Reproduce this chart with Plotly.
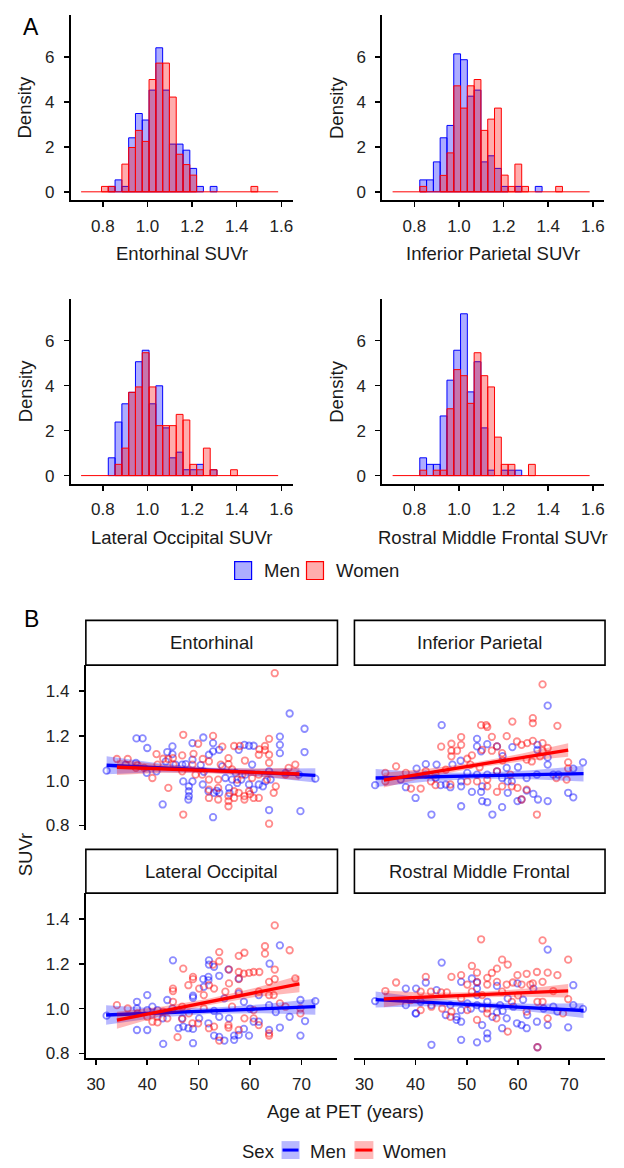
import plotly.graph_objects as go

# ---------------- DATA ----------------
REGIONS = ["Entorhinal", "Inferior Parietal", "Lateral Occipital", "Rostral Middle Frontal"]
HIST_TITLES = ["Entorhinal SUVr", "Inferior Parietal SUVr", "Lateral Occipital SUVr", "Rostral Middle Frontal SUVr"]

# histogram bins (shared)
BIN_START = 0.7028
BIN_WIDTH = 0.03044
N_BINS = 29

ENT_MEN_DENS = [0, 0, 0, 0, 0.24, 0.53, 0.24, 2.40, 3.48, 3.19, 4.52, 6.40, 4.52, 2.12, 2.12, 1.85, 1.04, 0.24, 0, 0.24, 0, 0, 0, 0, 0, 0, 0, 0, 0]
ENT_WOMEN_DENS = [0, 0, 0, 0.24, 0.24, 0, 1.23, 1.97, 2.73, 2.24, 4.99, 5.72, 5.72, 4.21, 1.67, 1.21, 0.74, 0, 0, 0, 0, 0, 0, 0, 0, 0.24, 0, 0, 0]
IP_MEN_DENS = [0, 0, 0, 0, 0.53, 0.53, 1.33, 2.40, 2.95, 6.13, 5.87, 4.25, 4.52, 1.33, 1.60, 1.04, 0.24, 0, 0.24, 0, 0, 0.24, 0, 0, 0, 0, 0, 0, 0]
IP_WOMEN_DENS = [0, 0, 0, 0, 0.24, 0, 0, 0.73, 1.73, 4.71, 3.72, 4.71, 4.99, 2.73, 3.23, 3.72, 0.74, 0.24, 1.23, 0.24, 0, 0, 0, 0, 0.24, 0, 0, 0, 0]
LO_MEN_DENS = [0, 0, 0, 0, 0.79, 2.38, 3.19, 3.70, 5.06, 5.57, 3.19, 3.99, 2.12, 0.79, 1.04, 0.26, 0.26, 0.50, 0, 0.26, 0, 0, 0, 0, 0, 0, 0, 0, 0]
LO_WOMEN_DENS = [0, 0, 0, 0, 0, 0.50, 1.22, 3.70, 3.94, 5.46, 3.94, 2.22, 2.22, 2.22, 2.72, 2.47, 0.50, 0.26, 1.22, 0.26, 0, 0, 0.26, 0, 0, 0, 0, 0, 0]
RMF_MEN_DENS = [0, 0, 0, 0, 0.79, 0.50, 0.50, 2.65, 4.24, 5.57, 7.19, 3.72, 5.06, 2.12, 0.24, 0, 0.24, 0.24, 0.24, 0, 0, 0, 0, 0, 0, 0, 0, 0, 0]
RMF_WOMEN_DENS = [0, 0, 0, 0, 0.24, 0, 0.24, 0.24, 2.97, 4.71, 4.44, 3.21, 5.46, 4.44, 3.94, 1.71, 0.50, 0.50, 0, 0, 0.50, 0, 0, 0, 0, 0, 0, 0, 0]

HIST_XTICKS = [0.8, 1.0, 1.2, 1.4, 1.6]
HIST_YTICKS = [0, 2, 4, 6]
AGE_TICKS = [30, 40, 50, 60, 70]
SUVR_TICKS = [0.8, 1.0, 1.2, 1.4]

# scatter points: (age, SUVr)
ENT_MEN = [(32.1,1.045),(37.9,1.189),(39.1,1.189),(40.0,1.146),(43.9,1.128),(44.9,1.153),(44.9,1.119),(48.8,1.168),
           (50.9,1.193),(52.8,1.168),(52.8,1.131),(54.0,1.138),(57.8,1.138),(58.9,1.160),(59.8,1.156),(60.7,1.156),
           (65.8,1.197),(65.8,1.160),(65.8,1.123),(67.7,1.300),(70.6,1.232),(70.6,1.128),(72.7,1.009),(43.0,0.894),
           (52.8,0.837),(63.7,0.869),(69.8,0.864),(48.1,0.975),(48.1,0.953),(48.1,0.931),(48.0,0.916),(47.0,0.997),
           (48.8,0.997),(50.8,0.983),(51.9,0.953),(53.0,0.946),(54.0,0.946),(55.2,1.012),(56.5,1.005),(58.3,1.005),
           (59.8,0.983),(60.7,0.960),(61.7,0.983),(63.0,0.997),(64.0,1.005),(37.8,1.079),(39.9,1.035),(41.8,1.042),
           (46.8,1.072),(47.5,1.074),(45.5,1.072),(54.6,1.064),(57.2,1.035),(59.1,1.027),(63.7,1.042),(66.9,1.035),
           (69.5,1.027),(52.0,1.116),(48.8,1.094),(60.4,1.072),(55.9,0.968),(57.5,0.990),(50.4,1.070),(43.6,1.086),
           (35.8,1.072),(53.5,0.955),(56.0,0.945),(51.0,1.040),(62.5,0.975)]
ENT_WOMEN = [(64.8,1.480),(47.0,1.205),(52.8,1.200),(63.7,1.187),(49.9,1.165),(54.6,1.152),(56.9,1.155),(58.0,1.155),
             (62.9,1.155),(62.9,1.137),(61.8,1.140),(41.8,1.119),(43.1,1.098),(44.1,1.097),(45.0,1.101),(46.8,1.113),
             (34.1,1.097),(36.2,1.097),(50.8,1.097),(52.0,1.086),(55.8,1.101),(55.8,1.074),(61.7,1.116),(63.7,1.116),
             (63.7,1.080),(68.8,1.072),(67.5,1.057),(41.0,1.012),(44.1,0.968),(47.0,0.849),(52.0,1.005),(52.0,0.960),
             (52.0,0.923),(53.8,1.005),(53.8,0.968),(53.8,0.916),(55.8,0.931),(55.8,0.909),(55.8,0.886),(56.9,0.953),
             (56.9,0.923),(57.8,0.946),(58.9,0.931),(58.9,0.916),(59.8,0.953),(60.7,0.923),(61.7,0.923),(63.7,0.808),
             (57.5,1.005),(60.4,1.012),(63.3,1.005),(65.0,0.975),(64.6,0.946),(48.8,1.072),(49.4,1.027),(42.0,1.072),
             (39.4,1.057),(37.8,1.057),(45.1,1.072),(46.8,1.042),(50.7,1.027),(58.5,1.027),(61.7,1.027),(66.9,1.027),
             (38.1,1.070),(54.3,1.072),(56.5,1.050),(59.0,1.090),(49.0,1.120),(60.0,0.940)]
IP_MEN = [(65.8,1.335),(45.1,1.248),(52.0,1.187),(55.9,1.153),(54.0,1.163),(52.0,1.153),(52.8,1.131),(63.8,1.160),
          (63.8,1.137),(58.9,1.150),(65.8,1.104),(65.8,1.072),(72.7,1.082),(70.8,1.054),(32.1,0.980),(38.1,0.971),
          (40.2,1.054),(42.0,1.074),(44.1,1.072),(47.2,1.072),(48.8,1.089),(40.0,0.923),(43.1,0.849),(48.9,0.886),
          (51.0,0.950),(52.8,0.950),(53.0,0.909),(54.0,0.904),(55.0,0.849),(56.9,0.882),(58.0,0.946),(59.9,0.909),
          (60.7,0.916),(61.7,0.956),(63.0,0.941),(63.9,0.916),(65.8,0.909),(69.8,0.946),(70.8,0.926),(44.9,0.980),
          (45.9,0.983),(46.8,0.971),(48.9,0.975),(48.9,0.997),(50.1,1.035),(52.0,1.027),(54.0,1.027),(55.9,1.042),
          (57.8,1.057),(58.8,0.997),(61.7,1.012),(66.9,1.027),(67.9,1.027),(37.1,1.005),(42.0,1.027),(43.9,1.012),
          (63.7,1.027),(58.0,0.997),(56.9,1.012),(53.0,0.975),(60.0,1.060),(57.0,1.110)]
IP_WOMEN = [(64.8,1.430),(62.9,1.279),(62.9,1.257),(52.8,1.248),(53.8,1.248),(54.0,1.240),(58.9,1.264),(67.7,1.245),
            (45.0,1.152),(47.0,1.165),(48.9,1.195),(48.9,1.160),(47.0,1.134),(48.1,1.134),(47.0,1.109),(51.0,1.113),
            (53.0,1.138),(54.9,1.196),(54.9,1.134),(57.8,1.199),(55.9,1.153),(56.9,1.123),(59.8,1.175),(60.7,1.160),
            (61.8,1.168),(62.9,1.178),(64.8,1.168),(64.8,1.134),(64.3,1.109),(65.8,1.146),(61.7,1.094),(62.7,1.086),
            (69.8,1.082),(69.8,1.054),(36.2,1.064),(34.1,1.035),(38.1,1.035),(42.0,1.042),(43.9,1.027),(45.9,1.049),
            (50.1,1.098),(50.7,1.072),(52.0,0.997),(54.0,1.005),(55.9,1.042),(58.5,1.027),(39.1,0.965),(41.0,0.965),
            (43.9,0.980),(46.8,0.983),(50.1,0.997),(54.0,0.975),(55.9,0.950),(56.9,0.975),(58.8,0.975),(59.9,0.968),
            (60.7,0.916),(61.7,0.960),(63.7,0.849),(67.5,1.012),(69.5,1.005),(34.1,0.997),(43.0,0.997),(57.0,1.090),
            (52.5,1.060)]
LO_MEN = [(65.8,1.283),(63.8,1.201),(45.0,1.216),(52.0,1.216),(52.0,1.197),(53.0,1.187),(55.8,1.176),(54.0,1.147),
          (50.9,1.132),(51.9,1.142),(57.8,1.135),(51.9,1.127),(51.0,1.098),(48.9,1.058),(48.9,1.049),(43.9,1.039),
          (40.0,1.061),(38.0,1.031),(32.1,0.969),(38.0,1.001),(40.0,0.994),(38.0,0.905),(40.0,0.905),(43.1,0.843),
          (48.9,0.846),(46.1,0.913),(47.0,0.920),(48.0,0.913),(48.9,0.910),(51.9,0.935),(53.0,0.880),(54.0,0.874),
          (55.0,0.858),(56.9,0.861),(56.9,0.880),(57.8,0.883),(59.8,0.880),(58.8,0.910),(60.7,0.942),(61.7,0.942),
          (63.7,0.905),(65.8,0.916),(69.8,0.880),(67.7,0.964),(70.7,0.945),(69.8,1.039),(72.7,1.034),(55.0,1.046),
          (57.8,1.068),(58.8,1.031),(61.7,1.061),(63.7,1.016),(55.9,0.957),(54.0,0.964),(50.1,0.957),(46.8,0.957),
          (43.0,0.957),(42.0,0.994),(41.0,1.009),(44.9,1.001),(53.0,0.990),(60.0,1.000),(65.0,0.985)]
LO_WOMEN = [(64.8,1.372),(62.9,1.279),(62.9,1.246),(67.7,1.261),(54.0,1.253),(54.0,1.212),(52.8,1.197),(58.9,1.250),
            (57.8,1.236),(47.0,1.179),(48.9,1.142),(48.9,1.132),(55.9,1.175),(57.8,1.164),(58.8,1.157),(59.8,1.160),
            (60.7,1.164),(61.8,1.164),(64.8,1.175),(63.7,1.120),(64.8,1.132),(68.8,1.135),(55.9,1.113),(57.8,1.132),
            (52.0,1.105),(53.0,1.090),(50.1,1.090),(45.0,1.090),(45.0,1.079),(48.0,1.105),(51.0,1.061),(55.2,1.076),
            (57.8,1.076),(61.7,1.076),(63.7,1.061),(64.6,1.061),(69.8,1.001),(69.8,0.979),(34.1,1.016),(36.2,1.001),
            (38.1,0.979),(40.0,0.964),(42.0,0.964),(42.0,0.939),(43.1,0.987),(45.0,1.031),(46.8,1.009),(46.8,0.954),
            (45.9,0.873),(48.8,0.935),(49.9,0.935),(51.0,1.001),(52.0,0.913),(53.0,0.920),(54.0,0.858),(55.8,0.927),
            (55.8,0.916),(57.8,0.905),(58.9,0.957),(60.7,0.957),(61.7,0.927),(63.7,0.890),(63.7,0.880),(65.8,1.024),
            (66.9,1.009),(60.7,0.994),(56.5,1.009),(48.1,0.979),(41.0,0.942),(43.9,0.957)]
RMF_MEN = [(65.8,1.264),(70.8,1.105),(45.1,1.206),(42.0,1.117),(40.1,1.090),(38.1,1.090),(44.1,1.083),(48.9,1.120),
           (51.0,1.135),(52.0,1.117),(52.0,1.090),(55.9,1.102),(58.0,1.046),(59.9,1.113),(63.0,1.090),(32.1,1.034),
           (38.1,1.016),(40.1,0.979),(43.1,1.016),(45.9,0.972),(48.0,0.964),(48.0,0.950),(48.9,0.942),(48.9,0.994),
           (50.8,1.001),(52.0,1.061),(52.0,1.016),(53.0,1.001),(53.0,0.927),(54.0,0.890),(54.0,0.868),(55.0,0.964),
           (55.9,0.984),(56.9,0.913),(57.8,0.957),(59.8,0.935),(60.7,0.927),(61.7,0.913),(61.8,0.972),(63.7,0.942),
           (65.8,0.927),(67.7,0.987),(69.8,0.917),(70.8,1.016),(72.7,0.999),(48.9,0.861),(43.1,0.839),(52.0,0.850),
           (66.9,1.009),(65.0,1.001),(59.1,1.009),(56.5,1.016),(54.0,1.031),(50.1,1.024),(46.8,1.016),(41.0,1.031),
           (40.0,0.979),(63.8,0.828),(57.0,0.990),(61.0,1.040)]
RMF_WOMEN = [(52.8,1.310),(64.8,1.305),(69.8,1.219),(56.9,1.219),(58.0,1.197),(51.0,1.191),(55.9,1.179),(54.9,1.160),
             (52.0,1.161),(54.0,1.138),(63.7,1.164),(65.8,1.161),(67.7,1.150),(61.7,1.156),(59.9,1.150),(62.9,1.113),
             (64.8,1.120),(48.9,1.150),(47.0,1.142),(42.0,1.142),(36.2,1.117),(34.1,1.079),(45.0,1.073),(46.1,1.073),
             (50.1,1.108),(52.0,1.120),(54.0,1.108),(55.9,1.120),(57.8,1.108),(59.0,1.117),(60.7,1.108),(62.4,1.108),
             (41.0,1.076),(39.1,1.039),(43.0,1.076),(51.0,1.076),(53.0,1.061),(56.9,1.076),(66.9,1.079),(69.8,1.043),
             (68.8,0.979),(41.0,0.994),(43.1,1.009),(45.2,1.001),(46.8,0.964),(47.0,0.987),(50.1,0.994),(52.0,0.950),
             (54.0,0.979),(55.8,0.957),(58.0,0.898),(54.0,1.001),(61.7,0.987),(63.8,1.031),(65.8,0.957),(64.8,1.031),
             (48.9,1.046),(58.8,1.031),(63.8,0.828),(60.0,1.060)]

# fitted lines (endpoints) and confidence bands
ENT_MEN_FIT_AGE, ENT_MEN_FIT = [32.1, 72.7], [1.069, 1.024]
ENT_WOMEN_FIT_AGE, ENT_WOMEN_FIT = [34.1, 69.6], [1.060, 1.030]
IP_MEN_FIT_AGE, IP_MEN_FIT = [32.2, 72.8], [1.012, 1.032]
IP_WOMEN_FIT_AGE, IP_WOMEN_FIT = [33.8, 69.8], [1.003, 1.137]
LO_MEN_FIT_AGE, LO_MEN_FIT = [32.0, 72.7], [0.972, 1.009]
LO_WOMEN_FIT_AGE, LO_WOMEN_FIT = [34.1, 69.6], [0.949, 1.111]
RMF_MEN_FIT_AGE, RMF_MEN_FIT = [32.2, 72.8], [1.041, 0.992]
RMF_WOMEN_FIT_AGE, RMF_WOMEN_FIT = [33.8, 69.8], [1.044, 1.080]

ENT_MEN_BAND_AGE = [32.1, 42.2, 52.4, 62.5, 72.7]
ENT_MEN_LO = [1.029, 1.038, 1.035, 1.017, 0.992]
ENT_MEN_HI = [1.109, 1.078, 1.058, 1.053, 1.056]
ENT_WOMEN_BAND_AGE = [34.1, 43.0, 51.9, 60.7, 69.6]
ENT_WOMEN_LO = [1.025, 1.035, 1.033, 1.022, 1.002]
ENT_WOMEN_HI = [1.095, 1.071, 1.057, 1.054, 1.058]
IP_MEN_BAND_AGE = [32.2, 42.3, 52.5, 62.6, 72.8]
IP_MEN_LO = [0.972, 0.997, 1.009, 1.007, 0.997]
IP_MEN_HI = [1.052, 1.037, 1.035, 1.047, 1.067]
IP_WOMEN_BAND_AGE = [33.8, 42.8, 51.8, 60.8, 69.8]
IP_WOMEN_LO = [0.970, 1.019, 1.058, 1.087, 1.107]
IP_WOMEN_HI = [1.036, 1.055, 1.082, 1.121, 1.167]
LO_MEN_BAND_AGE = [32.0, 42.2, 52.4, 62.5, 72.7]
LO_MEN_LO = [0.929, 0.961, 0.978, 0.980, 0.973]
LO_MEN_HI = [1.015, 1.001, 1.004, 1.020, 1.045]
LO_WOMEN_BAND_AGE = [34.1, 43.0, 51.9, 60.7, 69.6]
LO_WOMEN_LO = [0.911, 0.970, 1.016, 1.051, 1.074]
LO_WOMEN_HI = [0.987, 1.010, 1.044, 1.091, 1.148]
RMF_MEN_BAND_AGE = [32.2, 42.3, 52.5, 62.6, 72.8]
RMF_MEN_LO = [1.005, 1.011, 1.005, 0.986, 0.959]
RMF_MEN_HI = [1.077, 1.047, 1.029, 1.022, 1.025]
RMF_WOMEN_BAND_AGE = [33.8, 42.8, 51.8, 60.8, 69.8]
RMF_WOMEN_LO = [1.007, 1.035, 1.050, 1.054, 1.050]
RMF_WOMEN_HI = [1.081, 1.071, 1.074, 1.088, 1.110]

# ---------------- STYLE / LAYOUT ----------------
W, H = 624, 1168
FONT = "Liberation Sans, Arial, sans-serif"
TXT = "#1a1a1a"
TICK_COL = "#222222"
BLUE, RED = "#0000FF", "#FF0000"
BLUE_FILL, RED_FILL = "rgba(0,0,255,0.32)", "rgba(255,0,0,0.32)"
BLUE_BAND, RED_BAND = "rgba(0,0,255,0.28)", "rgba(255,0,0,0.28)"
BLUE_PT, RED_PT = "rgba(0,0,255,0.45)", "rgba(255,0,0,0.45)"

def fx(p): return p / W
def fy(p): return 1 - p / H

HIST_BOX = [(71, 293, 15, 201), (383, 605, 15, 201), (71, 293, 300, 486), (383, 605, 300, 486)]
SCAT_BOX = [(86, 338, 668, 834), (355, 606, 668, 834), (86, 338, 897, 1063), (355, 606, 897, 1063)]
STRIP_Y = [(623, 668), (623, 668), (853, 897), (853, 897)]

fig = go.Figure()

def ax_name(i, kind):
    return kind + ("axis" if i == 1 else f"axis{i}")

def ref(i, kind):
    return kind + ("" if i == 1 else str(i))

layout_axes = {}
tickfont = dict(family=FONT, size=17, color=TICK_COL)

# histogram axes
for j, (x0, x1, y0, y1) in enumerate(HIST_BOX):
    i = j + 1
    layout_axes[ax_name(i, "x")] = dict(
        domain=[fx(x0), fx(x1)], range=[0.657, 1.65], anchor=ref(i, "y"),
        showline=True, linewidth=2, linecolor="black", ticks="outside", ticklen=5, tickwidth=1.5,
        tickcolor="black", tickvals=HIST_XTICKS, tickformat=".1f", showgrid=False, zeroline=False,
        tickfont=tickfont, ticklabelstandoff=4)
    layout_axes[ax_name(i, "y")] = dict(
        domain=[fy(y1), fy(y0)], range=[-0.37, 7.86], anchor=ref(i, "x"),
        showline=True, linewidth=2, linecolor="black", ticks="outside", ticklen=5, tickwidth=1.5,
        tickcolor="black", tickvals=HIST_YTICKS, showgrid=False, zeroline=False,
        tickfont=tickfont, ticklabelstandoff=6)

# scatter axes
for j, (x0, x1, y0, y1) in enumerate(SCAT_BOX):
    i = j + 5
    bottom = j >= 2
    left = j % 2 == 0
    layout_axes[ax_name(i, "x")] = dict(
        domain=[fx(x0), fx(x1)], range=[28.06, 77.0], anchor=ref(i, "y"),
        showline=bottom, linewidth=2, linecolor="black", ticks="outside" if bottom else "",
        ticklen=5, tickwidth=1.5, tickcolor="black", tickvals=AGE_TICKS, showticklabels=bottom,
        showgrid=False, zeroline=False, tickfont=tickfont, ticklabelstandoff=4)
    layout_axes[ax_name(i, "y")] = dict(
        domain=[fy(y1), fy(y0)], range=[0.778, 1.516], anchor=ref(i, "x"),
        showline=left, linewidth=2, linecolor="black", ticks="outside" if left else "",
        ticklen=5, tickwidth=1.5, tickcolor="black", tickvals=SUVR_TICKS, tickformat=".1f",
        showticklabels=left, showgrid=False, zeroline=False, tickfont=tickfont, ticklabelstandoff=6)

# histogram traces
hist_data = [(ENT_MEN_DENS, ENT_WOMEN_DENS), (IP_MEN_DENS, IP_WOMEN_DENS),
             (LO_MEN_DENS, LO_WOMEN_DENS), (RMF_MEN_DENS, RMF_WOMEN_DENS)]
centers = [BIN_START + (k + 0.5) * BIN_WIDTH for k in range(N_BINS)]
for j, (men, women) in enumerate(hist_data):
    i = j + 1
    for dens, fill, line in [(men, BLUE_FILL, BLUE), (women, RED_FILL, RED)]:
        xs = [c for c, d in zip(centers, dens) if d > 0]
        ys = [d for d in dens if d > 0]
        fig.add_trace(go.Bar(x=xs, y=ys, width=BIN_WIDTH, marker=dict(color=fill, line=dict(color=line, width=1)),
                             xaxis=ref(i, "x"), yaxis=ref(i, "y"), showlegend=False, hoverinfo="skip"))
    # zero-height bins drawn as outline along the baseline
    fig.add_trace(go.Scatter(x=[BIN_START, BIN_START + N_BINS * BIN_WIDTH], y=[0, 0], mode="lines",
                             line=dict(color=RED, width=1), xaxis=ref(i, "x"), yaxis=ref(i, "y"),
                             showlegend=False, hoverinfo="skip"))

# scatter traces
scat = [
    (ENT_MEN, ENT_WOMEN, (ENT_MEN_FIT_AGE, ENT_MEN_FIT, ENT_MEN_BAND_AGE, ENT_MEN_LO, ENT_MEN_HI),
     (ENT_WOMEN_FIT_AGE, ENT_WOMEN_FIT, ENT_WOMEN_BAND_AGE, ENT_WOMEN_LO, ENT_WOMEN_HI)),
    (IP_MEN, IP_WOMEN, (IP_MEN_FIT_AGE, IP_MEN_FIT, IP_MEN_BAND_AGE, IP_MEN_LO, IP_MEN_HI),
     (IP_WOMEN_FIT_AGE, IP_WOMEN_FIT, IP_WOMEN_BAND_AGE, IP_WOMEN_LO, IP_WOMEN_HI)),
    (LO_MEN, LO_WOMEN, (LO_MEN_FIT_AGE, LO_MEN_FIT, LO_MEN_BAND_AGE, LO_MEN_LO, LO_MEN_HI),
     (LO_WOMEN_FIT_AGE, LO_WOMEN_FIT, LO_WOMEN_BAND_AGE, LO_WOMEN_LO, LO_WOMEN_HI)),
    (RMF_MEN, RMF_WOMEN, (RMF_MEN_FIT_AGE, RMF_MEN_FIT, RMF_MEN_BAND_AGE, RMF_MEN_LO, RMF_MEN_HI),
     (RMF_WOMEN_FIT_AGE, RMF_WOMEN_FIT, RMF_WOMEN_BAND_AGE, RMF_WOMEN_LO, RMF_WOMEN_HI)),
]
for j, (men, women, fit_m, fit_w) in enumerate(scat):
    i = j + 5
    xa, ya = ref(i, "x"), ref(i, "y")
    for pts, col in [(men, BLUE_PT), (women, RED_PT)]:
        fig.add_trace(go.Scatter(x=[p[0] for p in pts], y=[p[1] for p in pts], mode="markers",
                                 marker=dict(symbol="circle-open", size=6.5, color=col, line=dict(width=1.8, color=col)),
                                 xaxis=xa, yaxis=ya, showlegend=False, hoverinfo="skip"))
    for (fa, fv, ba, lo, hi), band, col in [(fit_m, BLUE_BAND, BLUE), (fit_w, RED_BAND, RED)]:
        fig.add_trace(go.Scatter(x=ba + ba[::-1], y=hi + lo[::-1], mode="lines", fill="toself",
                                 fillcolor=band, line=dict(width=0), xaxis=xa, yaxis=ya,
                                 showlegend=False, hoverinfo="skip"))
        fig.add_trace(go.Scatter(x=fa, y=fv, mode="lines", line=dict(color=col, width=3.3),
                                 xaxis=xa, yaxis=ya, showlegend=False, hoverinfo="skip"))

# ---------------- annotations / shapes ----------------
ann = []
shapes = []

def text(x, y, s, size=18.5, xanchor="center", angle=0, color=TXT):
    ann.append(dict(x=fx(x), y=fy(y), xref="paper", yref="paper", text=s, showarrow=False,
                    xanchor=xanchor, yanchor="middle", textangle=angle,
                    font=dict(family=FONT, size=size, color=color)))

text(31, 27, "A", size=23, color="black")
text(32, 622, "B", size=23, color="black")

# histogram axis titles
for j, (x0, x1, y0, y1) in enumerate(HIST_BOX):
    text((x0 + x1) / 2, y1 + 54, HIST_TITLES[j])
    text(x0 - 46, (y0 + y1) / 2, "Density", angle=-90)

# legend A
for (bx0, bx1, fill, line, lbl, tx) in [(235, 252, BLUE_FILL, BLUE, "Men", 262), (307, 324, RED_FILL, RED, "Women", 335)]:
    shapes.append(dict(type="rect", xref="paper", yref="paper", x0=fx(bx0), x1=fx(bx1), y0=fy(582), y1=fy(564),
                       fillcolor=fill, line=dict(color=line, width=1.2)))
    text(tx, 573, lbl, xanchor="left")

# strips
for j, (x0, x1, y0, y1) in enumerate(SCAT_BOX):
    s0, s1 = STRIP_Y[j]
    shapes.append(dict(type="rect", xref="paper", yref="paper", x0=fx(x0), x1=fx(x1), y0=fy(s1), y1=fy(s0),
                       fillcolor="white", line=dict(color="black", width=1.6)))
    text((x0 + x1) / 2, (s0 + s1) / 2, REGIONS[j])

text(346, 1116, "Age at PET (years)")
text(25, 858, "SUVr", angle=-90)

# legend B
text(240, 1156, "Sex", xanchor="left")
for (bx0, bx1, fill, line, lbl, tx) in [(282, 300, BLUE_BAND, BLUE, "Men", 308), (355, 374, RED_BAND, RED, "Women", 382)]:
    shapes.append(dict(type="rect", xref="paper", yref="paper", x0=fx(bx0), x1=fx(bx1), y0=fy(1164), y1=fy(1146),
                       fillcolor=fill, line=dict(width=0)))
    shapes.append(dict(type="line", xref="paper", yref="paper", x0=fx(bx0 + 1), x1=fx(bx1 - 1), y0=fy(1155), y1=fy(1155),
                       line=dict(color=line, width=3)))
    text(tx, 1156, lbl, xanchor="left")

fig.update_layout(
    width=W, height=H, margin=dict(l=0, r=0, t=0, b=0),
    paper_bgcolor="white", plot_bgcolor="white", barmode="overlay", bargap=0,
    showlegend=False, annotations=ann, shapes=shapes, font=dict(family=FONT, color=TXT),
    **layout_axes)

fig.write_html("out.html", config={"displayModeBar": False, "staticPlot": True},
               post_script="document.body.style.margin='0px';document.body.style.overflow='hidden';")
